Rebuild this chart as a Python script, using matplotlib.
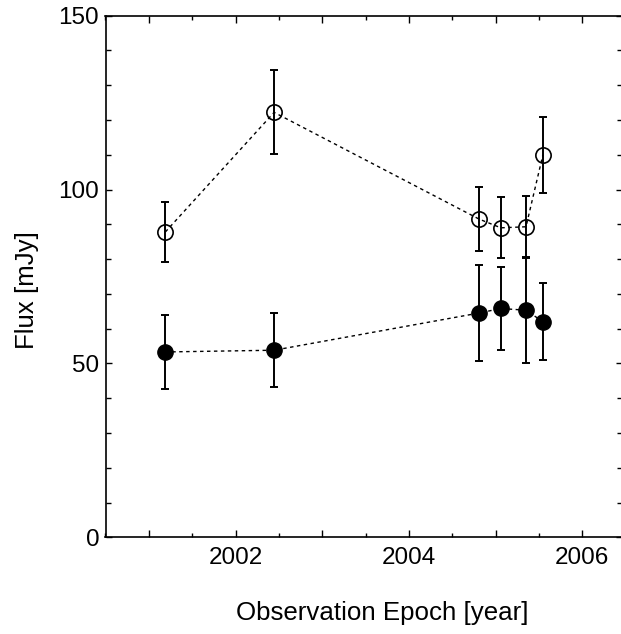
import matplotlib
matplotlib.use("Agg")
import matplotlib.pyplot as plt
from matplotlib.ticker import MultipleLocator, FuncFormatter

plt.rcParams['font.family'] = ['Liberation Sans', 'DejaVu Sans']

# Data
epochs = [2001.19, 2002.445, 2004.81, 2005.06, 2005.35, 2005.545]
flux_open = [87.8, 122.2, 91.5, 89.0, 89.3, 110.0]
err_open = [8.7, 12.1, 9.2, 8.8, 8.9, 11.0]
flux_filled = [53.3, 53.8, 64.5, 65.8, 65.3, 62.0]
err_filled = [10.7, 10.6, 13.9, 12.0, 15.2, 11.0]

W, H = 621, 634
x_left_px, x_right_px = 105.5, 622.0
px_per_year = 86.7
xmin = 2000.5
xmax = xmin + (x_right_px - x_left_px) / px_per_year

fig = plt.figure(figsize=(W / 100, H / 100), dpi=100)
ax = fig.add_axes([x_left_px / W, (H - 537.3) / H, (x_right_px - x_left_px) / W, (537.3 - 15.7) / H])

ms = 11
ax.errorbar(epochs, flux_open, yerr=err_open, fmt='none', ecolor='black',
            elinewidth=1.4, capsize=2.6, capthick=1.4, zorder=2)
ax.plot(epochs, flux_open, linestyle=(0, (2.5, 2.5)), color='black', lw=1.0, zorder=3)
ax.plot(epochs, flux_open, linestyle='none', marker='o', ms=ms,
        mfc='none', mec='black', mew=1.2, zorder=4)

ax.errorbar(epochs, flux_filled, yerr=err_filled, fmt='none', ecolor='black',
            elinewidth=1.4, capsize=2.6, capthick=1.4, zorder=2)
ax.plot(epochs, flux_filled, linestyle=(0, (2.5, 2.5)), color='black', lw=1.0, zorder=3)
ax.plot(epochs, flux_filled, linestyle='none', marker='o', ms=ms,
        mfc='black', mec='black', zorder=4)

ax.set_xlim(xmin, xmax)
ax.set_ylim(0, 150)

ax.xaxis.set_major_locator(MultipleLocator(1))
ax.xaxis.set_minor_locator(MultipleLocator(0.5))
ax.xaxis.set_major_formatter(FuncFormatter(lambda v, p: f"{int(round(v))}" if int(round(v)) % 2 == 0 else ""))
ax.yaxis.set_major_locator(MultipleLocator(50))
ax.yaxis.set_minor_locator(MultipleLocator(10))

ax.tick_params(which='both', direction='in', top=True, right=True, labelsize=17.5, width=1.0)
ax.tick_params(axis='x', which='major', length=5.2, pad=7)
ax.tick_params(axis='x', which='minor', length=3)
ax.tick_params(axis='y', which='major', length=4.3, pad=4.5)
ax.tick_params(axis='y', which='minor', length=3.8)

for s in ax.spines.values():
    s.set_linewidth(1.2)

fig.text(382 / W, 1 - 613 / H, 'Observation Epoch [year]', ha='center', va='center', fontsize=18.6)
fig.text(27 / W, 1 - 290 / H, 'Flux [mJy]', ha='center', va='center', rotation=90, fontsize=18.6)

fig.savefig('out.png', dpi=100)
